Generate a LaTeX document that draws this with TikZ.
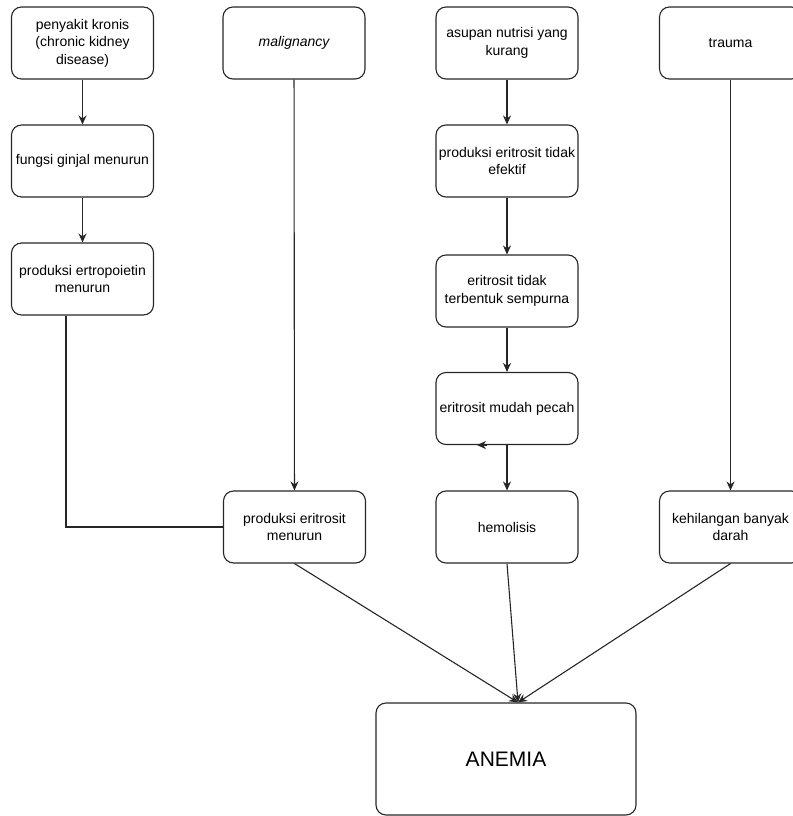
\documentclass[tikz,border=0pt]{standalone}
\usepackage{fontspec}
\setmainfont{Liberation Sans}
\usepackage{tikz}
\usetikzlibrary{arrows.meta}

\begin{document}
\begin{tikzpicture}[x=1pt, y=-1pt,
    box/.style={draw=black!85, line width=1.1pt, rounded corners=10pt, align=center,
        minimum width=142pt, minimum height=72pt, inner sep=1pt,
        font=\fontsize{14}{17.5}\selectfont},
    arr/.style={draw=black!85, line width=1.1pt, -{Stealth[length=9pt, width=8pt]}},
    link/.style={draw=black!85, line width=1.1pt}]
    \useasboundingbox (0, 0) rectangle (792, 816);

    % left column
    \node[box] (ckd) at (82.5, 43) {penyakit kronis\\(chronic kidney\\disease)};
    \node[box] (ginjal) at (82.5, 161) {fungsi ginjal menurun};
    \node[box] (epo) at (82.5, 279) {produksi ertropoietin\\menurun};

    % second column
    \node[box] (malig) at (294, 43) {\itshape malignancy};
    \node[box] (menurun) at (294.5, 527) {produksi eritrosit\\menurun};

    % third column
    \node[box] (asupan) at (507, 43) {asupan nutrisi yang\\kurang};
    \node[box] (efektif) at (507, 161) {produksi eritrosit tidak\\efektif};
    \node[box] (sempurna) at (507, 291) {eritrosit tidak\\terbentuk sempurna};
    \node[box] (pecah) at (507, 408.5) {eritrosit mudah pecah};
    \node[box] (hemolisis) at (507, 527) {hemolisis};

    % right column
    \node[box] (trauma) at (730.5, 43) {trauma};
    \node[box] (darah) at (730.5, 527) {kehilangan banyak\\darah};

    \node[box, minimum width=260pt, minimum height=112pt,
        font=\fontsize{21}{25}\selectfont] (anemia) at (506, 759) {ANEMIA};
    \coordinate (hit) at ([xshift=12pt]anemia.north);

    \draw[arr] (ckd) -- (ginjal);
    \draw[arr] (ginjal) -- (epo);
    \draw[link] ([xshift=-16.5pt]epo.south) |- (menurun.west);
    \draw[arr] (malig) -- (menurun);

    \draw[arr] (asupan) -- (efektif);
    \draw[arr] (efektif) -- (sempurna);
    \draw[arr] (sempurna) -- (pecah);
    \draw[arr] (pecah) -- (hemolisis);
    \draw[arr] ([xshift=-20pt]pecah.south) -- ([xshift=-30pt]pecah.south);

    \draw[arr] (trauma) -- (darah);

    \draw[arr] (menurun.south) -- (hit);
    \draw[arr] (hemolisis.south) -- (hit);
    \draw[arr] (darah.south) -- (hit);
\end{tikzpicture}
\end{document}
